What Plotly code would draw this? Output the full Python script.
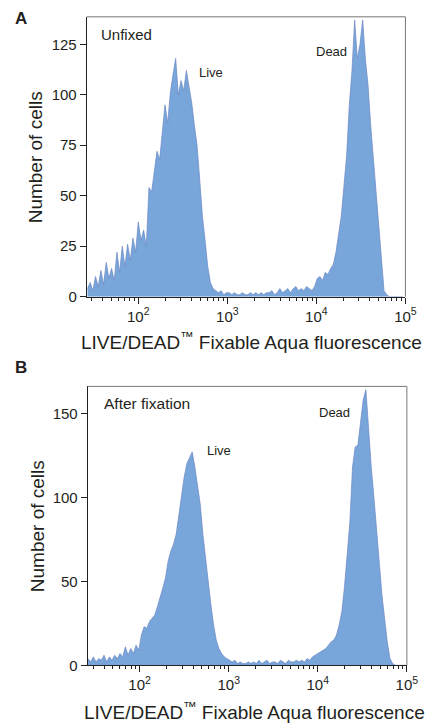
import plotly.graph_objects as go

# ---------------- data ----------------
# Panel A (Unfixed): log10 fluorescence bin centres and counts
logx_a = [1.43, 1.46, 1.49, 1.52, 1.55, 1.58, 1.61, 1.64, 1.67, 1.70, 1.73, 1.76, 1.79, 1.82, 1.85,
          1.88, 1.91, 1.94, 1.97, 2.00, 2.03, 2.06, 2.09, 2.12, 2.15, 2.18, 2.21, 2.24, 2.27, 2.30,
          2.33, 2.36, 2.39, 2.42, 2.45, 2.48, 2.51, 2.54, 2.57, 2.60, 2.63, 2.66, 2.69, 2.72, 2.75,
          2.78, 2.81, 2.84, 2.87, 2.90, 2.93, 2.96, 2.99, 3.02, 3.05, 3.08, 3.11, 3.14, 3.17, 3.20,
          3.23, 3.26, 3.29, 3.32, 3.35, 3.38, 3.41, 3.44, 3.47, 3.50, 3.53, 3.56, 3.59, 3.62, 3.65,
          3.68, 3.71, 3.74, 3.77, 3.80, 3.83, 3.86, 3.89, 3.92, 3.95, 3.98, 4.01, 4.04, 4.07, 4.10,
          4.13, 4.16, 4.19, 4.22, 4.25, 4.28, 4.31, 4.34, 4.37, 4.40, 4.43, 4.46, 4.49, 4.52, 4.55,
          4.58, 4.61, 4.64, 4.67, 4.70, 4.73, 4.76, 4.79, 4.82, 4.85, 4.88, 4.91, 4.94, 4.97]
counts_a = [4, 7, 3, 10, 5, 13, 6, 17, 9, 14, 8, 22, 12, 25, 15,
            26, 18, 29, 22, 37, 28, 33, 25, 54, 52, 62, 72, 68, 80, 95,
            86, 101, 110, 118, 100, 107, 102, 112, 104, 96, 85, 75, 58, 40, 28,
            15, 7, 4, 3, 2, 3, 1, 2, 2, 1, 2, 1, 1, 2, 1,
            1, 2, 1, 2, 1, 2, 1, 2, 2, 3, 1, 2, 4, 2, 3,
            4, 2, 4, 5, 3, 4, 3, 5, 4, 3, 5, 9, 10, 8, 12,
            11, 14, 16, 22, 30, 40, 55, 70, 95, 112, 137, 118, 125, 137, 118,
            105, 85, 68, 52, 35, 18, 3, 1, 0, 0, 0, 0, 0, 0]

# Panel B (After fixation)
logx_b = [1.42, 1.45, 1.48, 1.51, 1.54, 1.57, 1.60, 1.63, 1.66, 1.69, 1.72, 1.75, 1.78, 1.81, 1.84,
          1.87, 1.90, 1.93, 1.96, 1.99, 2.02, 2.05, 2.08, 2.11, 2.14, 2.17, 2.20, 2.23, 2.26, 2.29,
          2.32, 2.35, 2.38, 2.41, 2.44, 2.47, 2.50, 2.53, 2.56, 2.59, 2.62, 2.65, 2.68, 2.71, 2.74,
          2.77, 2.80, 2.83, 2.86, 2.89, 2.92, 2.95, 2.98, 3.01, 3.04, 3.07, 3.10, 3.13, 3.16, 3.19,
          3.22, 3.25, 3.28, 3.31, 3.34, 3.37, 3.40, 3.43, 3.46, 3.49, 3.52, 3.55, 3.58, 3.61, 3.64,
          3.67, 3.70, 3.73, 3.76, 3.79, 3.82, 3.85, 3.88, 3.91, 3.94, 3.97, 4.00, 4.03, 4.06, 4.09,
          4.12, 4.15, 4.18, 4.21, 4.24, 4.27, 4.30, 4.33, 4.36, 4.39, 4.42, 4.45, 4.48, 4.51, 4.54,
          4.57, 4.60, 4.63, 4.66, 4.69, 4.72, 4.75, 4.78, 4.81, 4.84, 4.87, 4.90, 4.93, 4.96, 4.99]
counts_b = [4, 2, 5, 2, 4, 3, 6, 2, 5, 3, 6, 4, 7, 5, 11,
            6, 10, 7, 12, 9, 18, 23, 22, 26, 28, 30, 35, 40, 46, 52,
            62, 68, 72, 78, 90, 102, 112, 120, 124, 127, 118, 108, 96, 78, 63,
            50, 36, 24, 15, 10, 7, 5, 4, 3, 2, 3, 1, 2, 1, 1,
            2, 1, 2, 1, 3, 1, 2, 3, 1, 2, 2, 1, 3, 2, 1,
            3, 2, 2, 3, 2, 3, 2, 4, 3, 5, 6, 7, 8, 9, 10,
            12, 14, 15, 18, 24, 32, 47, 65, 85, 118, 130, 131, 145, 158, 164,
            140, 118, 100, 80, 60, 42, 28, 14, 4, 1, 0, 0, 0, 0, 0]

major_ticks = [100, 1000, 10000, 100000]
major_text = ["10<sup>2</sup>", "10<sup>3</sup>", "10<sup>4</sup>", "10<sup>5</sup>"]
yticks_a = [0, 25, 50, 75, 100, 125]
yticks_b = [0, 50, 100, 150]

xtitle = "LIVE/DEAD<sup>\u2122</sup> Fixable Aqua fluorescence"
ytitle = "Number of cells"

# ---------------- figure ----------------
W, H = 432, 727
FONT = "Liberation Sans, Arial, Helvetica, sans-serif"
TXT = "#231f20"
FILL = "#78a6da"
LINE = "#6b86c4"

minor_vals = [m * 10 ** e for e in range(1, 5) for m in range(2, 10)]

fig = go.Figure()
fig.add_trace(go.Scatter(x=[10 ** v for v in logx_a], y=counts_a, mode="lines",
                         fill="tozeroy", fillcolor=FILL,
                         line=dict(color=LINE, width=0.7),
                         xaxis="x", yaxis="y", showlegend=False, hoverinfo="skip"))
fig.add_trace(go.Scatter(x=[10 ** v for v in logx_b], y=counts_b, mode="lines",
                         fill="tozeroy", fillcolor=FILL,
                         line=dict(color=LINE, width=0.7),
                         xaxis="x2", yaxis="y2", showlegend=False, hoverinfo="skip"))

def px(x):
    return x / W

def py(y):
    return 1 - y / H

xa = dict(type="log", tickmode="array", tickvals=major_ticks, ticktext=major_text,
          ticks="outside", ticklen=6, tickwidth=1, tickcolor="#222",
          showline=True, linecolor="#222", linewidth=1, showgrid=False, zeroline=False,
          tickfont=dict(family=FONT, size=15, color=TXT),
          minor=dict(tickmode="array", tickvals=minor_vals, ticks="outside", ticklen=3,
                     tickwidth=1, tickcolor="#222", showgrid=False))
ya = dict(tickmode="array", ticks="outside", ticklen=6, tickwidth=1, tickcolor="#222",
          showline=True, linecolor="#222", linewidth=1, showgrid=False, zeroline=False,
          tickfont=dict(family=FONT, size=15, color=TXT))

fig.update_layout(
    width=W, height=H, margin=dict(l=0, r=0, t=0, b=0),
    paper_bgcolor="white", plot_bgcolor="white",
    xaxis=dict(xa, domain=[px(89), px(416)], range=[1.421, 5.0], anchor="y"),
    yaxis=dict(ya, domain=[py(300), py(17)], range=[0, 138.6], tickvals=yticks_a, anchor="x"),
    xaxis2=dict(xa, domain=[px(90), px(417.5)], range=[1.417, 5.0], anchor="y2"),
    yaxis2=dict(ya, domain=[py(672.7), py(390.7)], range=[0, 166], tickvals=yticks_b, anchor="x2"),
)

# gray frame (top/right)
for xr, yr in (("x domain", "y domain"), ("x2 domain", "y2 domain")):
    fig.add_shape(type="line", xref=xr, yref=yr, x0=0, x1=1, y0=1, y1=1,
                  line=dict(color="#777", width=1))
    fig.add_shape(type="line", xref=xr, yref=yr, x0=1, x1=1, y0=0, y1=1,
                  line=dict(color="#777", width=1))

def ann(text, x, y, size, xanchor="center", bold=False, angle=0):
    fig.add_annotation(text=f"<b>{text}</b>" if bold else text,
                       x=px(x), y=py(y), xref="paper", yref="paper",
                       xanchor=xanchor, yanchor="middle", showarrow=False, textangle=angle,
                       font=dict(family=FONT, size=size, color=TXT))

# Panel A texts
ann("A", 22, 19, 17, bold=True)
ann("Unfixed", 102, 35, 15, xanchor="left")
ann("Live", 202, 73, 13, xanchor="left")
ann("Dead", 322, 52, 13, xanchor="left")
ann(xtitle, 258, 345, 19)
ann(ytitle, 36, 159, 19, angle=-90)

# Panel B texts
ann("B", 22, 372, 17, bold=True)
ann("After fixation", 105, 408, 15.5, xanchor="left")
ann("Live", 210, 456, 13, xanchor="left")
ann("Dead", 325, 417, 13, xanchor="left")
ann(xtitle, 261, 719, 19)
ann(ytitle, 38, 532, 19, angle=-90)

fig.write_html("out.html")
